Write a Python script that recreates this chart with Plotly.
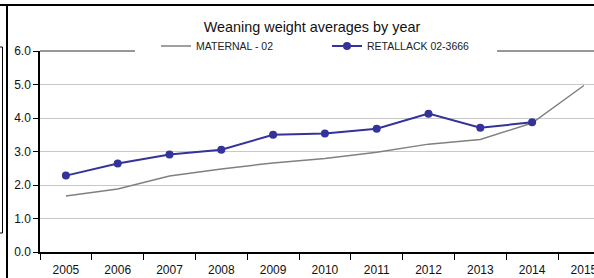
import plotly.graph_objects as go

years = ["2005", "2006", "2007", "2008", "2009", "2010", "2011", "2012", "2013", "2014", "2015"]
maternal = [1.67, 1.88, 2.27, 2.48, 2.66, 2.79, 2.98, 3.22, 3.36, 3.85, 4.97]
retallack = [2.28, 2.64, 2.91, 3.05, 3.50, 3.54, 3.68, 4.13, 3.71, 3.87, None]
y_ticks = [0, 1, 2, 3, 4, 5, 6]

W, H = 594, 278
L, T, B = 40, 51, 26
PW = W - L
PH = H - T - B


def px(x):
    return (x - L) / PW


def py(y):
    return (H - B - y) / PH


fig = go.Figure()
fig.add_trace(go.Scatter(
    x=years, y=maternal, name="MATERNAL - 02", mode="lines",
    line=dict(color="#808080", width=1.5),
))
fig.add_trace(go.Scatter(
    x=years, y=retallack, name="RETALLACK 02-3666", mode="lines+markers",
    line=dict(color="#333399", width=2),
    marker=dict(color="#333399", size=8),
))

shapes = [
    # plot-area top border
    dict(type="line", xref="paper", yref="paper", x0=0, x1=1.1, y0=1, y1=1,
         line=dict(color="#333333", width=1.2), layer="above"),
    # legend background covering the top border
    dict(type="rect", xref="paper", yref="paper", x0=px(135), x1=px(497),
         y0=py(58), y1=py(38), fillcolor="white", line=dict(width=0), layer="above"),
    # outer chart frame
    dict(type="line", xref="paper", yref="paper", x0=px(0), x1=px(W), y0=py(5), y1=py(5),
         line=dict(color="#000000", width=2), layer="above"),
    dict(type="line", xref="paper", yref="paper", x0=px(7), x1=px(7), y0=py(5), y1=py(H + 5),
         line=dict(color="#000000", width=2), layer="above"),
    # partial box at far left
    dict(type="line", xref="paper", yref="paper", x0=px(2.5), x1=px(2.5), y0=py(47), y1=py(233),
         line=dict(color="#000000", width=1), layer="above"),
    dict(type="line", xref="paper", yref="paper", x0=px(-2), x1=px(2.5), y0=py(47), y1=py(47),
         line=dict(color="#000000", width=1), layer="above"),
    dict(type="line", xref="paper", yref="paper", x0=px(-2), x1=px(2.5), y0=py(233), y1=py(233),
         line=dict(color="#000000", width=1), layer="above"),
]

fig.update_layout(
    width=W, height=H,
    margin=dict(l=L, r=0, t=T, b=B, pad=0, autoexpand=False),
    paper_bgcolor="white", plot_bgcolor="white",
    font=dict(family="Liberation Sans, Arial, sans-serif", color="#222222", size=12),
    title=dict(text="Weaning weight averages by year", xref="container", yref="container",
               x=312 / W, y=1 - 27 / H, xanchor="center", yanchor="middle",
               font=dict(size=14.4, color="#111111")),
    showlegend=True,
    legend=dict(orientation="h", xref="paper", yref="paper", x=px(156), y=py(46),
                xanchor="left", yanchor="middle", bgcolor="rgba(0,0,0,0)",
                font=dict(size=10.5, color="#222222"), entrywidth=126, entrywidthmode="pixels",
                tracegroupgap=0),
    shapes=shapes,
    xaxis=dict(type="category", range=[-0.5, -0.5 + PW / 51.8], tickson="boundaries",
               ticks="outside", ticklen=6, tickcolor="#000000", tickwidth=1,
               showline=True, linecolor="#000000", linewidth=1.5, showgrid=False,
               zeroline=False, ticklabelstandoff=6, automargin=False,
               tickfont=dict(size=12, color="#111111")),
    yaxis=dict(range=[0, 6], tickvals=y_ticks, tickformat=".1f",
               ticks="outside", ticklen=5, tickcolor="#000000", tickwidth=1,
               showline=True, linecolor="#000000", linewidth=1.5,
               showgrid=True, gridcolor="#c8c8c8", gridwidth=1.2, zeroline=False,
               ticklabelstandoff=0, automargin=False,
               tickfont=dict(size=12, color="#111111")),
)

fig.write_html("out.html", config={"displayModeBar": False},
               post_script="document.body.style.margin='0';document.body.style.overflow='hidden';")
